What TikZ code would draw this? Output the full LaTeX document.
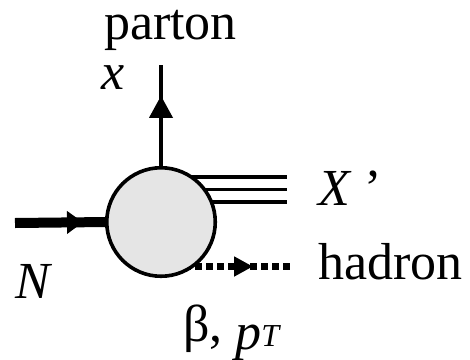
\documentclass[tikz,border=0pt]{standalone}
\usepackage{fontspec}
\setmainfont{Liberation Serif}
\usetikzlibrary{arrows.meta,decorations.markings,backgrounds}
\begin{document}
\begin{tikzpicture}[x=1pt,y=-1pt,
  lbl/.style={inner sep=0pt, outer sep=0pt, font=\fontsize{52}{60}\selectfont},
  blob/.style={circle, draw, fill=gray!20, line width=3.6pt, minimum size=108.5pt, inner sep=0pt, outer sep=0pt},
  midarrow/.style n args={3}{postaction={decorate}, decoration={markings,
      mark=at position #1 with {\arrow{Triangle[length=#2,width=#3]}}}},
  partonline/.style={line width=3.6pt, midarrow={72pt}{22pt}{23pt}},
  nucleonline/.style={line width=10pt, midarrow={68pt}{16pt}{22pt}},
  xline/.style={line width=3.3pt},
  hadronline/.style={line width=7.5pt, dash pattern=on 6.5pt off 4.5pt, midarrow={69pt}{19pt}{19pt}}
]
\useasboundingbox (0,0) rectangle (470,359);
\node[blob] (b) at (161,222) {};
\coordinate (ptop) at (161,65);
\coordinate (nin) at (15,223);
\coordinate (x1s) at (170,177); \coordinate (x1e) at (287,177);
\coordinate (x2s) at (170,189.5); \coordinate (x2e) at (287,189.5);
\coordinate (x3s) at (170,202); \coordinate (x3e) at (287,202);
\coordinate (hs) at (184,266.5); \coordinate (he) at (289.5,266.5);
\begin{scope}[on background layer]
  \draw[partonline] (b.north) -- (ptop);
  \draw[nucleonline] (nin) -- (b.west);
  \draw[xline] (x1s) -- (x1e);
  \draw[xline] (x2s) -- (x2e);
  \draw[xline] (x3s) -- (x3e);
  \draw[hadronline] (hs) -- (he);
\end{scope}
\node[lbl, anchor=base, text height=31pt] (parton) at (170.5,39) {parton};
\node[lbl, anchor=base west] (xl) at (101,89) {\textit{x}};
\node[lbl, anchor=base west] (Xl) at (318,205) {\textit{X}\kern13pt’};
\node[lbl, anchor=base west] (hadron) at (318,279) {hadron};
\node[lbl, anchor=base west] (Nl) at (16,298) {\textit{N}};
\node[lbl, anchor=base west] (beta) at (183,341) {β, \raisebox{-8pt}{\textit{p}\raisebox{3pt}{\fontsize{32}{32}\selectfont\textit{T}}}};
\end{tikzpicture}
\end{document}
